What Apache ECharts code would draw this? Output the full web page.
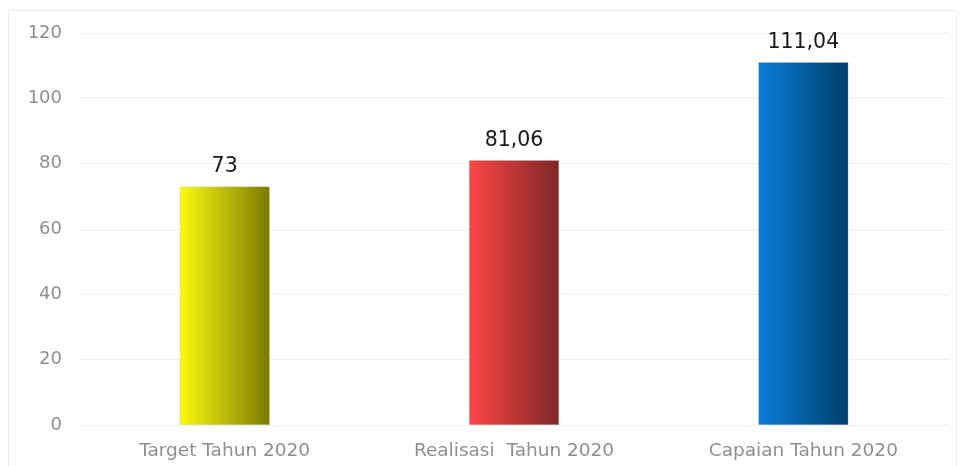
<!DOCTYPE html>
<html>
<head>
<meta charset="utf-8">
<script src="https://cdn.jsdelivr.net/npm/echarts@6/dist/echarts.min.js"></script>
<style>
html,body{margin:0;padding:0;background:#fff;}
#frame{position:absolute;left:8px;top:10px;width:949px;height:470px;border:1px solid #ececec;box-sizing:border-box;}
#chart{position:absolute;left:0;top:0;width:965px;height:466px;}
</style>
</head>
<body>
<div id="frame"></div>
<div id="chart"></div>
<script>
const categories = ['Target Tahun 2020', 'Realisasi  Tahun 2020', 'Capaian Tahun 2020'];
const values = [73, 81.06, 111.04];
const valueLabels = ['73', '81,06', '111,04'];
const yTicks = [0, 20, 40, 60, 80, 100, 120];

const gradients = [
  ['#fbfb12', '#7b7b00'],
  ['#ff4646', '#7c2727'],
  ['#0a7fd8', '#003f6c']
];

const chart = echarts.init(document.getElementById('chart'));
chart.setOption({
  animation: false,
  grid: { left: 80, right: 17, top: 33, bottom: 41 },
  xAxis: {
    type: 'category',
    data: categories,
    axisLine: { show: false },
    axisTick: { show: false },
    axisLabel: { color: '#8f8f8f', fontSize: 18.5, fontFamily: 'DejaVu Sans', margin: 17 }
  },
  yAxis: {
    type: 'value',
    min: yTicks[0],
    max: yTicks[yTicks.length - 1],
    interval: 20,
    axisLine: { show: false },
    axisTick: { show: false },
    splitLine: { lineStyle: { color: '#f0f0f0', width: 1 } },
    axisLabel: { color: '#8f8f8f', fontSize: 18, fontFamily: 'DejaVu Sans', margin: 18 }
  },
  series: [{
    type: 'bar',
    barWidth: 90,
    data: values.map((v, i) => ({
      value: v,
      itemStyle: {
        color: new echarts.graphic.LinearGradient(0, 0, 1, 0, [
          { offset: 0, color: gradients[i][0] },
          { offset: 1, color: gradients[i][1] }
        ]),
        borderColor: 'rgba(200,200,200,0.5)',
        borderWidth: 0.5
      }
    })),
    label: {
      show: true,
      position: 'top',
      distance: 9,
      color: '#1a1a1a',
      fontSize: 20.5,
      fontFamily: 'DejaVu Sans',
      formatter: p => valueLabels[p.dataIndex]
    }
  }]
});
</script>
</body>
</html>
